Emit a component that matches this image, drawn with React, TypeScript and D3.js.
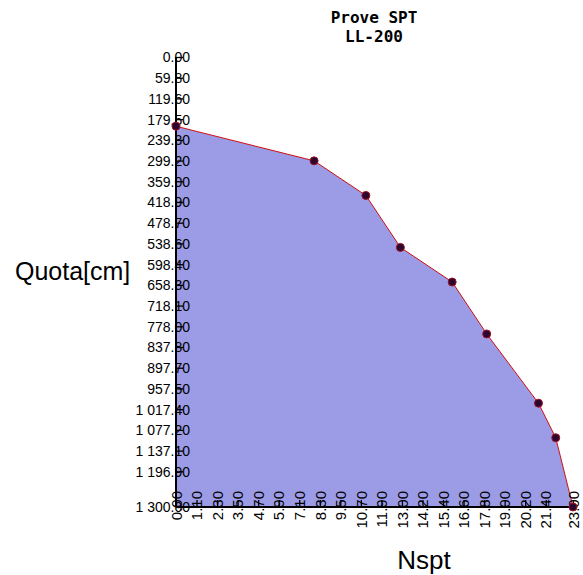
import { useEffect, useRef } from 'react';
import * as d3 from 'd3';

// Nspt values and depth (cm) for each blow count reading
const nspt = [0, 8, 11, 13, 16, 18, 21, 22, 23];
const depth = [200, 300, 400, 550, 650, 800, 1000, 1100, 1300];

const yTicks = [0, 59.8, 119.6, 179.5, 239.3, 299.2, 359.0, 418.9, 478.7, 538.6, 598.4, 658.3, 718.1, 778.0, 837.8, 897.7, 957.5, 1017.4, 1077.2, 1137.1, 1196.9, 1300];
const xTicks = [0, 1.19, 2.38, 3.57, 4.76, 5.95, 7.14, 8.33, 9.52, 10.71, 11.9, 13.09, 14.28, 15.47, 16.66, 17.85, 19.04, 20.23, 21.42, 23];
const xTickLabels = ['0.00', '1.10', '2.30', '3.50', '4.70', '5.90', '7.10', '8.30', '9.50', '10.70', '11.90', '13.00', '14.20', '15.40', '16.60', '17.80', '19.00', '20.20', '21.40', '23.00'];

const title = ['Prove SPT', 'LL-200'];

export default function App() {
  const svgRef = useRef<SVGSVGElement>(null);
  const width = 583;
  const height = 575;

  useEffect(() => {
    if (!svgRef.current) return;
    const svg = d3.select(svgRef.current);
    svg.selectAll('*').remove();

    const x = d3.scaleLinear().domain([0, 23]).range([176, 573]);
    const y = d3.scaleLinear().domain([0, 1300]).range([57, 507]);

    const pts = nspt.map((v, i) => ({ n: v, d: depth[i] }));

    // filled area between the depth axis and the profile
    const area = d3.area<{ n: number; d: number }>()
      .x0(() => x(0))
      .x1(d => x(d.n))
      .y(d => y(d.d));

    svg.append('path')
      .datum(pts)
      .attr('d', area)
      .attr('fill', '#9b9be6');

    const line = d3.line<{ n: number; d: number }>()
      .x(d => x(d.n))
      .y(d => y(d.d));

    svg.append('path')
      .datum(pts)
      .attr('d', line)
      .attr('fill', 'none')
      .attr('stroke', '#d01010')
      .attr('stroke-width', 1);

    const fmt = d3.formatLocale({ decimal: '.', thousands: ' ', grouping: [3], currency: ['', ''] }).format(',.2f');

    // y axis
    const yAxis = d3.axisLeft(y).tickValues(yTicks).tickSize(-7).tickFormat(d => fmt(+d));
    const gy = svg.append('g').attr('transform', `translate(${x(0)},0)`).call(yAxis);
    gy.select('.domain').remove();
    gy.selectAll('.tick line').attr('stroke', '#000').attr('stroke-width', 1.3);
    gy.selectAll('.tick text')
      .attr('x', 14)
      .attr('dy', '0.35em')
      .attr('text-anchor', 'end')
      .style('font-family', 'Liberation Sans, Arial, sans-serif')
      .style('font-size', '14px')
      .attr('fill', '#000');

    // x axis
    const xAxis = d3.axisBottom(x).tickValues(xTicks).tickSize(-7).tickFormat((_, i) => xTickLabels[i]);
    const gx = svg.append('g').attr('transform', `translate(0,${y(1300)})`).call(xAxis);
    gx.select('.domain').remove();
    gx.selectAll('.tick line').attr('stroke', '#000').attr('stroke-width', 1.3);
    gx.selectAll('.tick text')
      .attr('transform', 'rotate(-90)')
      .attr('x', 16)
      .attr('y', 0)
      .attr('dy', '0.35em')
      .attr('text-anchor', 'end')
      .style('font-family', 'Liberation Sans, Arial, sans-serif')
      .style('font-size', '15px')
      .attr('fill', '#000');

    // axis lines
    svg.append('line')
      .attr('x1', x(0)).attr('x2', x(0))
      .attr('y1', y(0)).attr('y2', y(1300))
      .attr('stroke', '#000').attr('stroke-width', 2);
    svg.append('line')
      .attr('x1', x(0)).attr('x2', x(23))
      .attr('y1', y(1300)).attr('y2', y(1300))
      .attr('stroke', '#000').attr('stroke-width', 2);

    // points
    svg.selectAll('.dot')
      .data(pts)
      .enter()
      .append('circle')
      .attr('class', 'dot')
      .attr('cx', d => x(d.n))
      .attr('cy', d => y(d.d))
      .attr('r', 4)
      .attr('fill', '#2a0630')
      .attr('stroke', '#a01020')
      .attr('stroke-width', 1);

    // titles
    svg.selectAll('.title')
      .data(title)
      .enter()
      .append('text')
      .attr('class', 'title')
      .attr('x', 374)
      .attr('y', (_, i) => 23 + i * 19)
      .attr('text-anchor', 'middle')
      .style('font-family', 'DejaVu Sans Mono, monospace')
      .style('font-weight', 'bold')
      .style('font-size', '16px')
      .text(d => d);

    svg.append('text')
      .attr('x', 15)
      .attr('y', 280)
      .style('font-family', 'Liberation Sans, Arial, sans-serif')
      .style('font-size', '25px')
      .text('Quota[cm]');

    svg.append('text')
      .attr('x', 424)
      .attr('y', 569)
      .attr('text-anchor', 'middle')
      .style('font-family', 'Liberation Sans, Arial, sans-serif')
      .style('font-size', '26px')
      .text('Nspt');
  }, []);

  return (
    <svg
      ref={svgRef}
      width={width}
      height={height}
      style={{ position: 'absolute', left: 0, top: 0, background: '#fff' }}
    />
  );
}
